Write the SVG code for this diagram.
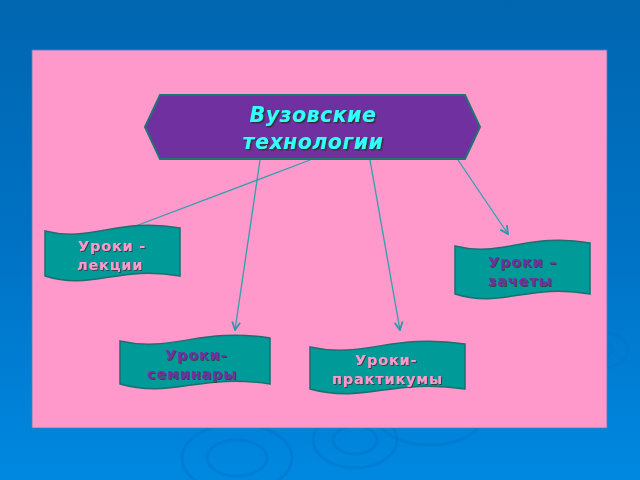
<svg xmlns="http://www.w3.org/2000/svg" width="640" height="480" viewBox="0 0 640 480">
<defs>
<linearGradient id="bg" x1="0" y1="0" x2="0" y2="1">
<stop offset="0" stop-color="#0066b0"/>
<stop offset="0.5" stop-color="#0072c4"/>
<stop offset="1" stop-color="#0088e0"/>
</linearGradient>
<filter id="shd" x="-10%" y="-30%" width="120%" height="160%">
<feDropShadow dx="1.5" dy="1.5" stdDeviation="0.3" flood-color="#333333" flood-opacity="1"/>
</filter>
<filter id="shs" x="-10%" y="-30%" width="120%" height="160%">
<feDropShadow dx="1" dy="1" stdDeviation="0.3" flood-color="#3a3a3a" flood-opacity="0.9"/>
</filter>
<marker id="arr" viewBox="0 0 10 10" refX="9" refY="5" markerWidth="10" markerHeight="10" markerUnits="userSpaceOnUse" orient="auto">
<path d="M1,1 L9,5 L1,9" fill="none" stroke="#2a9aa8" stroke-width="1.8"/>
</marker>
</defs>
<style>
.conn{stroke:#2fa0ac;stroke-width:1.3;fill:none}
.ban{fill:#009a98;stroke:#1d6e6e;stroke-width:1.5}
.t{font-family:"DejaVu Sans",Verdana,sans-serif;font-weight:bold;font-size:14.5px;letter-spacing:0.8px;filter:url(#shs)}
.pink{fill:#ff99cc}
.purp{fill:#7030a0}
.title{font-family:"DejaVu Sans",Verdana,sans-serif;font-weight:bold;font-style:italic;font-size:20.5px;text-anchor:middle;letter-spacing:0.5px;fill:#33ffff;filter:url(#shd)}
.rip{fill:none;stroke:#0074c8;stroke-width:3;opacity:0.45}
</style>
<rect x="0" y="0" width="640" height="480" fill="url(#bg)"/>
<g id="ripples">
<ellipse class="rip" cx="237" cy="458" rx="30" ry="18"/>
<ellipse class="rip" cx="237" cy="458" rx="55" ry="34"/>
<ellipse class="rip" cx="355" cy="440" rx="22" ry="14"/>
<ellipse class="rip" cx="355" cy="440" rx="42" ry="28"/>
<ellipse class="rip" cx="430" cy="420" rx="50" ry="25"/>
<ellipse class="rip" cx="600" cy="350" rx="12" ry="8"/>
<ellipse class="rip" cx="600" cy="350" rx="28" ry="18"/>
</g>
<rect x="32" y="50" width="575" height="378" fill="#ff99cc" stroke="#4a80c0" stroke-width="0.8"/>
<g id="connectors">
<line class="conn" x1="310" y1="160" x2="133" y2="227"/>
<line class="conn" x1="260" y1="160" x2="235" y2="330" marker-end="url(#arr)"/>
<line class="conn" x1="370" y1="160" x2="400" y2="330" marker-end="url(#arr)"/>
<line class="conn" x1="458" y1="160" x2="508" y2="234" marker-end="url(#arr)"/>
</g>
<g id="node-title">
<polygon points="145,127 160,95 465,95 480,127 465,159 160,159" fill="#7030a0" stroke="#1d7474" stroke-width="2"/>
<text class="title" x="313" y="122">Вузовские</text>
<text class="title" x="313" y="149">технологии</text>
</g>
<g id="node-lectures">
<path class="ban" d="M45,231 C92,243 118,217 180,228 L180,276 C118,265 92,291 45,276 Z"/>
<text class="t pink" x="78" y="251">Уроки -</text>
<text class="t pink" x="77" y="270">лекции</text>
</g>
<g id="node-tests">
<path class="ban" d="M455,246 C502,258 528,232 590,243 L590,294 C528,283 502,309 455,294 Z"/>
<text class="t purp" x="488" y="267">Уроки –</text>
<text class="t purp" x="488" y="286">зачеты</text>
</g>
<g id="node-seminars">
<path class="ban" d="M120,341 C172,353 200,327 270,338 L270,384 C200,373 172,399 120,384 Z"/>
<text class="t purp" x="165" y="360">Уроки-</text>
<text class="t purp" x="147" y="379">семинары</text>
</g>
<g id="node-practicums">
<path class="ban" d="M310,347 C364,359 392,333 465,344 L465,389 C392,378 364,404 310,389 Z"/>
<text class="t pink" x="355" y="365">Уроки-</text>
<text class="t pink" x="332" y="384">практикумы</text>
</g>
</svg>
